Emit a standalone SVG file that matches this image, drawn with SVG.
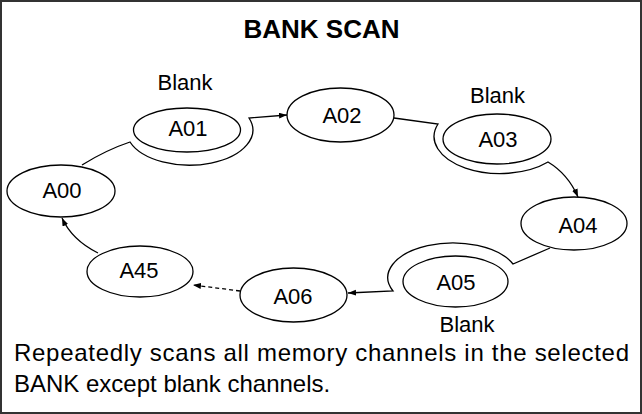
<svg xmlns="http://www.w3.org/2000/svg" width="642" height="414" viewBox="0 0 642 414">
<style>
.frame{fill:#fff;stroke:#333;stroke-width:2}
.node{fill:#fff;stroke:#000;stroke-width:1.3}
.lbl{font-family:"Liberation Sans",Arial,sans-serif;font-size:22px;fill:#000;text-anchor:middle}
.title{font-family:"Liberation Sans",Arial,sans-serif;font-size:26px;font-weight:bold;fill:#000;text-anchor:middle}
.body{font-family:"Liberation Sans",Arial,sans-serif;font-size:24px;fill:#000}
.edge{fill:none;stroke:#000;stroke-width:1.3}
.dash{stroke-dasharray:4 3}
</style>
<defs>
<marker id="arr" markerUnits="userSpaceOnUse" markerWidth="9" markerHeight="7" refX="8" refY="3" orient="auto">
<path d="M0,0 L8,3 L0,6 z" fill="#000"/>
</marker>
</defs>
<rect class="frame" x="1" y="1" width="640" height="412"/>
<text class="title" x="321.5" y="38">BANK SCAN</text>
<g id="connectors">
<path class="edge" d="M82,165 Q106,150 130,142 A63,35 0 0 0 249,118 L287,115" marker-end="url(#arr)"/>
<path class="edge" d="M394,118 L438,124 A66,37 0 0 0 548,162 Q568,174 578,197" marker-end="url(#arr)"/>
<path class="edge" d="M550,248 L513,264 A64,34 0 0 0 393,291 L348,293" marker-end="url(#arr)"/>
<path class="edge dash" d="M240,291 L193,285" marker-end="url(#arr)"/>
<path class="edge" d="M98,253 Q72,240 62,218" marker-end="url(#arr)"/>
</g>
<g id="A00"><ellipse class="node" cx="61" cy="191" rx="54" ry="26"/><text class="lbl" x="62" y="198">A00</text></g>
<g id="A01"><ellipse class="node" cx="187" cy="130" rx="53.5" ry="22"/><text class="lbl" x="188" y="136">A01</text><text class="lbl" x="185" y="90">Blank</text></g>
<g id="A02"><ellipse class="node" cx="340.5" cy="115" rx="53.5" ry="27"/><text class="lbl" x="342" y="123">A02</text></g>
<g id="A03"><ellipse class="node" cx="497" cy="139" rx="54" ry="25"/><text class="lbl" x="498" y="147">A03</text><text class="lbl" x="497.5" y="103">Blank</text></g>
<g id="A04"><ellipse class="node" cx="574" cy="223.5" rx="53" ry="26.5"/><text class="lbl" x="578" y="233">A04</text></g>
<g id="A05"><ellipse class="node" cx="455.5" cy="281.5" rx="52.5" ry="25.5"/><text class="lbl" x="456" y="290">A05</text><text class="lbl" x="467" y="332">Blank</text></g>
<g id="A06"><ellipse class="node" cx="293.5" cy="295" rx="53.5" ry="27"/><text class="lbl" x="293" y="304">A06</text></g>
<g id="A45"><ellipse class="node" cx="140" cy="271.5" rx="53" ry="25.5"/><text class="lbl" x="139" y="278">A45</text></g>
<text class="body" x="14" y="361" textLength="615" lengthAdjust="spacing">Repeatedly scans all memory channels in the selected</text>
<text class="body" x="14" y="392">BANK except blank channels.</text>
</svg>
